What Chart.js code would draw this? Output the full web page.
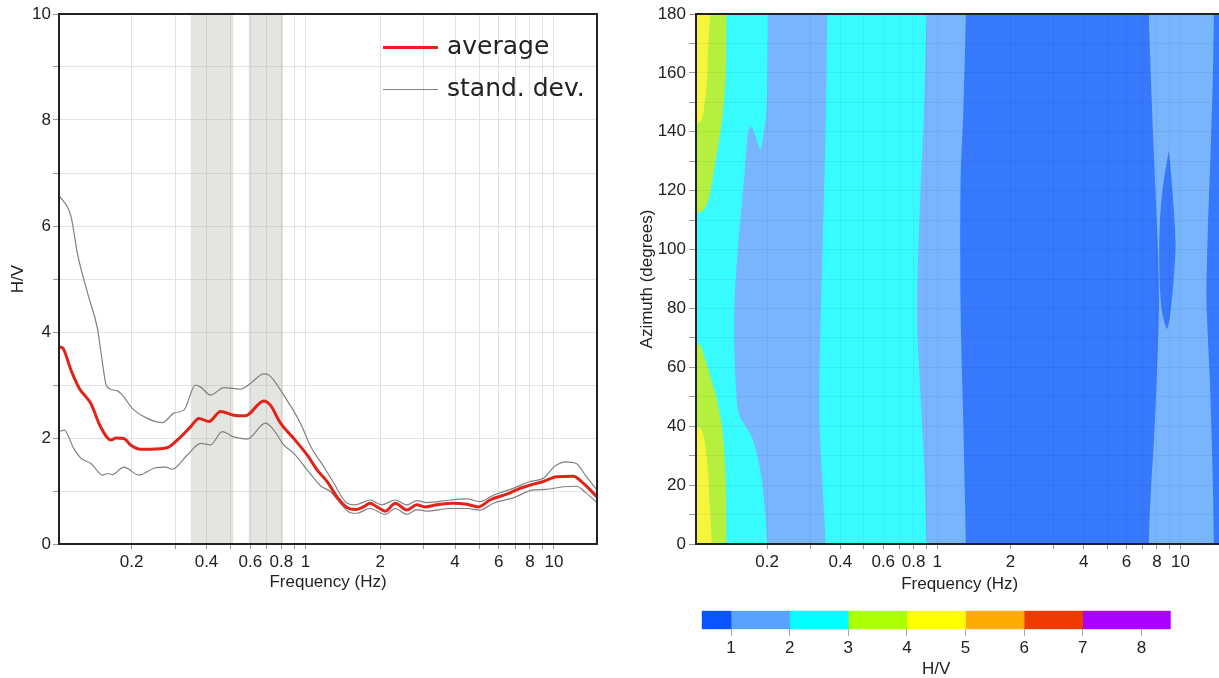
<!DOCTYPE html>
<html lang="en">
<head>
<meta charset="UTF-8">
<title>H/V curve and directionality</title>
<script src="https://cdn.jsdelivr.net/npm/chart.js"></script>
<style>
  html, body { margin: 0; padding: 0; background: #fff; width: 1219px; height: 678px; overflow: hidden; }
  .box { position: absolute; }
  #hvBox  { left: 0;     top: 0;     width: 620px; height: 600px; }
  #dirBox { left: 620px; top: 0;     width: 620px; height: 600px; }
  #barBox { left: 680px; top: 600px; width: 520px; height: 82px; }
  .leg { position: absolute; left: 383px; height: 36px; line-height: 36px;
         font-family: 'DejaVu Sans', sans-serif; font-size: 25px; color: #222; white-space: nowrap; }
  .leg span { display: inline-block; width: 55px; vertical-align: middle; margin-right: 9px; }
</style>
</head>
<body>

<div class="box" id="hvBox"><canvas id="hvChart"></canvas></div>
<div class="box" id="dirBox"><canvas id="dirChart"></canvas></div>
<div class="box" id="barBox"><canvas id="barChart"></canvas></div>
<div id="legend"></div>

<script>
// --- H/V curve (left) ---
const avgHz = [0.102, 0.1054, 0.114, 0.123, 0.137, 0.150, 0.165, 0.173, 0.186, 0.198,
               0.217, 0.239, 0.279, 0.305, 0.345, 0.373, 0.409, 0.456, 0.515, 0.574,
               0.680, 0.723, 0.794, 0.898, 1.016, 1.114, 1.222, 1.34, 1.47, 1.59,
               1.71, 1.82, 1.94, 2.10, 2.30, 2.56, 2.81, 3.03, 3.38, 3.94,
               4.46, 4.97, 5.53, 6.46, 7.30, 8.26, 9.06, 10.25, 11.96, 13.1, 14.9];
const avgHV = [3.72, 3.70, 3.28, 2.94, 2.65, 2.21, 1.96, 2.00, 1.99, 1.87,
               1.79, 1.79, 1.82, 1.96, 2.21, 2.37, 2.31, 2.50, 2.43, 2.42,
               2.70, 2.62, 2.28, 1.99, 1.68, 1.40, 1.18, 0.89, 0.69, 0.65,
               0.70, 0.77, 0.70, 0.62, 0.77, 0.64, 0.74, 0.70, 0.74, 0.77,
               0.75, 0.70, 0.83, 0.94, 1.05, 1.13, 1.18, 1.27, 1.28, 1.15, 0.89];

const upHz = [0.102, 0.114, 0.121, 0.133, 0.146, 0.150, 0.159, 0.175, 0.204, 0.231,
              0.266, 0.296, 0.325, 0.361, 0.379, 0.415, 0.470, 0.548, 0.601, 0.680,
              0.712, 0.818, 0.955, 1.05, 1.185, 1.30, 1.47, 1.59, 1.82, 2.03,
              2.30, 2.56, 2.81, 3.08, 3.82, 4.46, 5.04, 5.71, 6.86, 8.0,
              9.06, 10.1, 11.2, 12.3, 13.5, 14.9];
const upHV = [6.58, 6.18, 5.48, 4.73, 4.04, 3.66, 2.97, 2.89, 2.53, 2.37,
              2.29, 2.47, 2.53, 3.00, 2.96, 2.81, 2.95, 2.92, 3.03, 3.21,
              3.19, 2.81, 2.28, 1.84, 1.46, 1.15, 0.77, 0.74, 0.83, 0.74,
              0.83, 0.74, 0.82, 0.78, 0.83, 0.85, 0.80, 0.92, 1.05, 1.18,
              1.24, 1.47, 1.55, 1.52, 1.27, 1.02];

const loHz = [0.102, 0.107, 0.117, 0.125, 0.137, 0.153, 0.160, 0.167, 0.186, 0.214,
              0.246, 0.274, 0.291, 0.335, 0.379, 0.415, 0.463, 0.515, 0.583, 0.691,
              0.746, 0.818, 0.898, 1.016, 1.15, 1.26, 1.38, 1.52, 1.61, 1.82,
              2.10, 2.30, 2.56, 2.81, 3.08, 3.82, 4.46, 5.04, 5.71, 6.86,
              8.26, 9.3, 10.9, 12.3, 13.5, 14.9];
const loHV = [2.12, 2.15, 1.80, 1.62, 1.52, 1.30, 1.33, 1.31, 1.45, 1.30,
              1.43, 1.45, 1.41, 1.68, 1.90, 1.87, 2.12, 2.02, 1.98, 2.28,
              2.15, 1.87, 1.71, 1.40, 1.10, 0.99, 0.77, 0.59, 0.58, 0.67,
              0.56, 0.67, 0.56, 0.65, 0.62, 0.67, 0.67, 0.64, 0.77, 0.87,
              1.02, 1.03, 1.08, 1.09, 0.96, 0.78];

// shaded frequency windows
const bandStartHz = [0.345, 0.59];
const bandEndHz   = [0.514, 0.816];

// axes
const hzGrid   = [0.2, 0.3, 0.4, 0.5, 0.6, 0.7, 0.8, 0.9, 1, 2, 3, 4, 5, 6, 7, 8, 9, 10];
const hzLabels = [0.2, 0.4, 0.6, 0.8, 1, 2, 4, 6, 8, 10];
const hvGrid   = [0, 1, 2, 3, 4, 5, 6, 7, 8, 9, 10];
const azGrid   = [0, 10, 20, 30, 40, 50, 60, 70, 80, 90, 100, 110, 120, 130, 140, 150, 160, 170, 180];

// --- directional H/V contours (right): region outlines in Hz / degrees ---
const cyanBaseHz = [0.09, 20, 20, 0.09];
const cyanBaseAz = [-10, -10, 190, 190];

const lightWideHz = [0.2020, 0.2020, 0.2006, 0.1988, 0.1938, 0.1878, 0.1808, 0.1720, 0.1672, 0.1630,
                     0.1580, 0.1515, 0.1468, 0.1468, 0.1492, 0.1530, 0.1604, 0.1737, 0.1866, 0.1951,
                     0.2001, 0.2001, 20, 20];
const lightWideAz = [190, 180, 159, 147, 140, 134, 137.5, 141.7, 140, 130,
                     117, 100, 81, 65, 52, 44, 41, 36, 26, 13,
                     0, -10, -10, 190];

const cyanMidHz = [0.3531, 0.3531, 0.3474, 0.3378, 0.3283, 0.3283, 0.3378, 0.3474, 0.3474,
                   0.9038, 0.9038, 0.8810, 0.8482, 0.8275, 0.8322, 0.8539, 0.8810, 0.9038, 0.9038];
const cyanMidAz = [190, 180, 140, 100, 60, 40, 20, 0, -10,
                   -10, 0, 29, 55, 75.7, 94, 120, 146, 180, 190];

const darkMainHz = [1.311, 1.311, 1.279, 1.247, 1.247, 1.279, 1.311, 1.311,
                    7.408, 7.408, 7.53, 7.77, 7.97, 8.15, 8.07, 7.89, 7.65, 7.408, 7.408];
const darkMainAz = [190, 180, 146, 122.5, 81, 42, 0, -10,
                    -10, 0, 16, 35, 55, 81, 100, 120, 146, 180, 190];

const darkRightHz = [13.71, 13.71, 13.58, 13.29, 12.95, 12.79, 12.79, 13.20, 13.50, 13.71, 13.71, 20, 20];
const darkRightAz = [190, 180, 159, 133, 107, 90, 81, 55, 29, 0, -10, -10, 190];

const lensHz = [8.952, 8.540, 8.278, 8.177, 8.223, 8.412, 8.815, 9.158, 9.447, 9.537, 9.386, 9.158, 8.952];
const lensAz = [133.5, 123.8, 113.4, 100.4, 87.4, 78.3, 73.1, 80.9, 93.9, 101.7, 113.4, 125.1, 133.5];

const greenTopHz = [0.09, 0.104, 0.108, 0.1127, 0.117, 0.1227, 0.1286, 0.1327, 0.1353, 0.136, 0.136, 0.09];
const greenTopAz = [114, 112.5, 113, 115, 120, 130, 140, 150, 160, 180, 190, 190];

const greenBotHz = [0.09, 0.136, 0.136, 0.1353, 0.1336, 0.1305, 0.127, 0.1236, 0.1185, 0.114, 0.110, 0.1056, 0.09];
const greenBotAz = [-10, -10, 0, 20, 30, 40, 45, 50, 55, 60, 64, 67.5, 69];

const yellowTopHz = [0.09, 0.1064, 0.110, 0.1127, 0.114, 0.114, 0.09];
const yellowTopAz = [142, 143.5, 148, 155, 165, 190, 190];

const yellowBotHz = [0.09, 0.1151, 0.1151, 0.1127, 0.110, 0.1056, 0.09];
const yellowBotAz = [-10, -10, 20, 30, 36, 39.5, 40];

// --- colour scale ---
const binEdges  = [0.5, 1, 2, 3, 4, 5, 6, 7, 8.5];
const binColors = ['#0a55ff', '#58a3ff', '#00ffff', '#aaff00', '#ffff00', '#ffaa00', '#ee3c00', '#aa00ff'];
const barTicks  = [1, 2, 3, 4, 5, 6, 7, 8];

const avgColor = '#e2231a';
const sdColor = '#808080';

Chart.defaults.font.family = "'Liberation Sans', Arial, sans-serif";
Chart.defaults.font.size = 17;
Chart.defaults.color = '#222';
Chart.defaults.animation = false;

const pts = (xs, ys) => xs.map((x, i) => ({x: x, y: ys[i]}));

const frame = {
  id: 'frame',
  afterDraw(chart) {
    const {ctx, chartArea: a} = chart;
    ctx.save();
    ctx.strokeStyle = '#222';
    ctx.lineWidth = 2;
    ctx.strokeRect(a.left, a.top, a.right - a.left, a.bottom - a.top);
    ctx.restore();
  }
};

const hzTicks = {
  autoSkip: false, maxRotation: 0, padding: 3,
  callback: v => hzLabels.includes(v) ? String(v) : ''
};

new Chart(document.getElementById('hvChart'), {
  type: 'line',
  data: {
    datasets: [
      {label: 'average', data: pts(avgHz, avgHV), borderColor: avgColor, borderWidth: 3, order: 0},
      {label: 'stand. dev.', data: pts(upHz, upHV), borderColor: sdColor, borderWidth: 1.2, order: 1},
      {label: 'stand. dev.', data: pts(loHz, loHV), borderColor: sdColor, borderWidth: 1.2, order: 1}
    ].concat(bandStartHz.map((s, i) => ({
      label: 'window',
      data: [{x: s, y: 10}, {x: bandEndHz[i], y: 10}],
      fill: 'origin', backgroundColor: 'rgba(172,172,160,0.32)',
      borderWidth: 0, tension: 0, order: 5
    })))
  },
  options: {
    responsive: true, maintainAspectRatio: false,
    elements: {point: {radius: 0}, line: {cubicInterpolationMode: 'monotone'}},
    plugins: {legend: {display: false}, tooltip: {enabled: false}},
    layout: {padding: {top: 14, right: 23, left: 0, bottom: 0}},
    scales: {
      x: {
        type: 'logarithmic', min: 0.102, max: 14.9,
        afterBuildTicks: s => { s.ticks = hzGrid.map(v => ({value: v})); },
        afterFit: s => { s.height = 56; },
        ticks: hzTicks,
        grid: {color: '#e2e2e2', tickColor: '#999', tickLength: 5},
        border: {display: false},
        title: {display: true, text: 'Frequency (Hz)', padding: {top: 0, bottom: 7}}
      },
      y: {
        min: 0, max: 10,
        afterBuildTicks: s => { s.ticks = hvGrid.map(v => ({value: v})); },
        afterFit: s => { s.width = 59; },
        ticks: {padding: 2, callback: v => v % 2 === 0 ? String(v) : ''},
        grid: {color: '#e2e2e2', tickColor: '#999', tickLength: 6},
        border: {display: false},
        title: {display: true, text: 'H/V', padding: {top: 8, bottom: 0}}
      }
    }
  },
  plugins: [frame]
});

// legend drawn as text next to line samples
const legendItems = [{text: 'average', color: avgColor, width: 3, top: 28},
                     {text: 'stand. dev.', color: sdColor, width: 1, top: 70}];
document.getElementById('legend').innerHTML = legendItems.map(it =>
  `<div class="leg" style="top:${it.top}px"><span style="border-top:${it.width}px solid ${it.color}"></span>${it.text}</div>`
).join('');

// directional contour map
const regions = [
  {hz: cyanBaseHz, az: cyanBaseAz, color: '#38fbff'},
  {hz: lightWideHz, az: lightWideAz, color: '#78b5fd'},
  {hz: cyanMidHz, az: cyanMidAz, color: '#38fbff'},
  {hz: darkMainHz, az: darkMainAz, color: '#3679fd'},
  {hz: darkRightHz, az: darkRightAz, color: '#3679fd'},
  {hz: lensHz, az: lensAz, color: '#3679fd'},
  {hz: greenTopHz, az: greenTopAz, color: '#b6f03e'},
  {hz: greenBotHz, az: greenBotAz, color: '#b6f03e'},
  {hz: yellowTopHz, az: yellowTopAz, color: '#f6f53c'},
  {hz: yellowBotHz, az: yellowBotAz, color: '#f6f53c'}
];

new Chart(document.getElementById('dirChart'), {
  type: 'line',
  data: {
    datasets: regions.map((r, i) => ({
      data: pts(r.hz, r.az),
      fill: 'shape', backgroundColor: r.color, borderWidth: 0,
      tension: 0.3, order: regions.length - i
    }))
  },
  options: {
    responsive: true, maintainAspectRatio: false,
    elements: {point: {radius: 0}},
    plugins: {legend: {display: false}, tooltip: {enabled: false}},
    layout: {padding: {top: 14, right: 16.6, left: 0, bottom: 0}},
    scales: {
      x: {
        type: 'logarithmic', min: 0.102, max: 15,
        afterBuildTicks: s => { s.ticks = hzGrid.map(v => ({value: v})); },
        afterFit: s => { s.height = 56; },
        ticks: hzTicks,
        grid: {color: 'rgba(0,0,60,0.05)', tickColor: '#999', tickLength: 5, z: 1},
        border: {display: false},
        title: {display: true, text: 'Frequency (Hz)', padding: {top: 0, bottom: 5}}
      },
      y: {
        min: 0, max: 180,
        afterBuildTicks: s => { s.ticks = azGrid.map(v => ({value: v})); },
        afterFit: s => { s.width = 76; },
        ticks: {padding: 3, callback: v => v % 20 === 0 ? String(v) : ''},
        grid: {color: 'rgba(0,0,60,0.05)', tickColor: '#999', tickLength: 7, z: 1},
        border: {display: false},
        title: {display: true, text: 'Azimuth (degrees)', padding: {top: 17, bottom: 0}}
      }
    }
  },
  plugins: [frame]
});

// colour bar
new Chart(document.getElementById('barChart'), {
  type: 'bar',
  data: {
    labels: ['H/V'],
    datasets: binColors.map((c, i) => ({
      data: [[binEdges[i], binEdges[i + 1]]],
      backgroundColor: c, borderWidth: 0, grouped: false,
      barPercentage: 1, categoryPercentage: 1
    }))
  },
  options: {
    indexAxis: 'y',
    responsive: true, maintainAspectRatio: false,
    plugins: {legend: {display: false}, tooltip: {enabled: false}},
    layout: {padding: {left: 21.7, right: 29.3, top: 10.7, bottom: 0}},
    scales: {
      y: {display: false},
      x: {
        type: 'linear', min: 0.5, max: 8.5,
        afterBuildTicks: s => { s.ticks = barTicks.map(v => ({value: v})); },
        afterFit: s => { s.height = 52.7; },
        ticks: {padding: 2},
        grid: {drawOnChartArea: false, tickLength: 7, tickColor: '#aaa'},
        border: {display: false},
        title: {display: true, text: 'H/V', padding: {top: 0, bottom: 2}}
      }
    }
  }
});
</script>
</body>
</html>
